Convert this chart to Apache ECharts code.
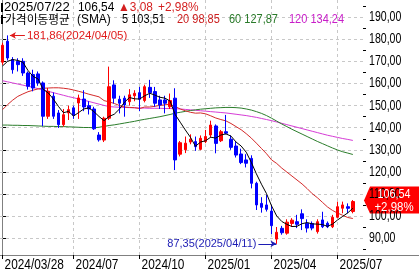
<!DOCTYPE html>
<html><head><meta charset="utf-8">
<script src="https://cdn.jsdelivr.net/npm/echarts@6/dist/echarts.min.js"></script>
<style>html,body{margin:0;padding:0;background:#fff;}#c{width:419px;height:275px;}</style>
</head><body><div id="c"></div>
<script>
const dates = ['2024/03/28','2024/04/05','2024/04/12','2024/04/19','2024/04/26','2024/05/03','2024/05/10','2024/05/17','2024/05/24','2024/05/31','2024/06/07','2024/06/14','2024/06/21','2024/06/28','2024/07/05','2024/07/12','2024/07/19','2024/07/26','2024/08/02','2024/08/09','2024/08/16','2024/08/23','2024/08/30','2024/09/06','2024/09/13','2024/09/20','2024/09/27','2024/10/04','2024/10/11','2024/10/18','2024/10/25','2024/11/01','2024/11/08','2024/11/15','2024/11/22','2024/11/29','2024/12/06','2024/12/13','2024/12/20','2024/12/27','2025/01/03','2025/01/10','2025/01/17','2025/01/24','2025/01/31','2025/02/07','2025/02/14','2025/02/21','2025/02/28','2025/03/07','2025/03/14','2025/03/21','2025/03/28','2025/04/04','2025/04/11','2025/04/17','2025/04/25','2025/05/02','2025/05/09','2025/05/16','2025/05/23','2025/05/30','2025/06/06','2025/06/13','2025/06/20','2025/06/27','2025/07/03','2025/07/11','2025/07/18','2025/07/22'];
const openP = [169.7,179.2,170.9,170.1,170.1,164.8,164.1,164.4,160.3,145.2,
 154.3,146.7,141.4,146.7,149.0,151.2,153.0,150.0,148.5,136.7,
 134.4,144.3,159.4,152.9,153.4,151.8,154.5,155.9,152.3,158.3,
 156.4,152.6,152.6,149.5,153.4,128.0,130.0,133.5,133.7,130.2,
 133.7,136.7,140.8,134.1,138.2,134.8,131.7,128.1,125.4,126.1,
 114.8,105.7,105.0,102.2,89.5,94.4,92.2,96.6,97.4,101.0,
 96.7,96.6,92.9,98.2,96.7,95.1,99.4,103.5,104.2,102.0];
const closeP = [177.4,171.6,166.3,168.6,164.8,158.8,158.0,160.3,145.2,156.5,
 145.2,141.4,145.9,148.2,145.6,153.5,149.4,148.5,139.5,134.5,
 144.3,158.6,153.4,151.1,150.3,154.9,155.6,152.9,158.6,155.9,
 151.1,150.3,151.1,152.3,125.4,133.2,133.0,134.8,131.4,135.2,
 136.0,141.2,132.9,138.2,137.5,131.1,127.6,124.2,123.9,114.8,
 105.0,103.9,103.0,95.6,92.6,92.4,97.2,98.1,96.2,98.8,
 94.5,94.5,97.4,95.1,95.1,99.4,104.2,105.0,103.46,106.54];
const lowP = [168.5,170.5,164.5,165.5,163.5,157.3,156.5,159.0,140.7,144.0,
 144.0,139.9,140.5,143.5,144.0,144.0,147.5,146.0,139.0,133.7,
 133.5,143.5,151.0,146.5,145.0,150.0,152.0,147.5,151.5,153.5,
 149.5,148.5,146.5,148.5,120.8,127.0,128.5,132.5,129.5,129.8,
 133.0,135.5,128.4,133.5,137.0,130.0,126.5,123.5,122.0,112.5,
 102.7,101.5,102.0,91.8,87.35,91.5,91.5,95.0,94.5,93.6,
 92.5,93.5,92.0,94.5,94.5,94.5,99.0,101.2,101.2,101.2];
const highP = [178.5,181.86,172.0,171.5,171.5,165.5,166.3,165.5,161.0,158.0,
 156.0,148.0,148.5,150.0,150.0,155.0,157.0,152.0,149.5,138.0,
 145.0,167.7,161.5,154.5,154.5,157.5,157.0,158.5,159.5,161.7,
 158.5,154.5,154.5,155.5,157.9,134.0,136.0,137.0,136.0,136.5,
 139.0,143.2,141.5,139.0,145.8,136.5,133.5,130.5,128.0,127.5,
 115.5,108.5,109.5,105.0,95.0,95.5,98.5,99.0,100.5,103.0,
 98.5,97.5,98.5,101.9,97.5,100.5,106.5,106.5,105.7,107.2];
const sma5 = [168.0,170.1,170.9,170.5,169.7,166.0,163.3,162.1,157.4,155.8,
 153.0,149.7,146.8,147.4,145.3,146.9,148.5,149.0,147.3,145.1,
 143.2,145.1,146.1,148.4,151.5,153.7,153.1,153.0,154.5,155.6,
 154.8,153.8,153.4,152.1,146.0,142.5,139.0,135.7,131.6,133.5,
 134.1,135.7,135.3,136.7,137.2,136.2,133.5,131.7,128.9,124.3,
 119.1,114.4,110.1,104.5,100.0,97.5,96.2,95.2,95.3,96.5,
 97.0,96.4,96.3,96.1,95.3,96.3,98.2,99.8,101.4,103.51];
const sma20 = [148.2,150.5,152.5,154.2,155.3,156.3,157.0,157.6,157.9,158.0,
 158.1,158.1,157.9,157.6,157.1,156.5,155.9,155.2,154.6,154.0,
 152.3,151.7,151.0,150.1,149.4,149.2,149.1,148.7,149.4,149.4,
 149.7,150.1,150.4,150.6,149.6,148.5,147.7,147.0,146.6,146.7,
 146.3,145.4,144.4,143.7,143.1,141.9,140.5,139.1,137.3,135.3,
 133.0,130.6,128.2,125.4,123.8,121.7,119.9,118.1,116.3,114.5,
 112.4,110.1,108.3,106.2,104.1,102.5,101.3,100.3,99.3,98.85];
const sma60 = [141.2,141.2,141.1,141.1,141.0,141.0,140.9,140.8,140.7,140.6,
 140.6,140.5,140.5,140.4,140.3,140.2,140.1,140.1,140.0,140.2,
 140.6,141.0,141.3,141.7,142.1,142.5,142.9,143.4,143.8,144.2,
 144.6,145.0,145.5,146.0,146.6,147.0,147.4,147.8,148.1,148.4,
 148.6,148.8,149.0,149.1,149.2,149.2,149.1,148.9,148.5,148.0,
 147.3,146.5,145.5,144.3,143.0,141.7,140.5,139.3,138.2,137.1,
 136.0,134.9,133.8,132.8,131.8,130.8,129.9,129.1,128.5,127.87];
const sma120 = [161.3,160.8,160.3,159.8,159.3,158.8,158.3,157.7,157.1,156.5,
 155.9,155.3,154.7,154.1,153.6,153.0,152.5,151.9,151.3,150.7,
 150.1,149.6,149.4,149.3,149.2,149.1,149.0,148.9,148.9,148.8,
 148.8,148.8,148.7,148.7,148.6,148.5,148.3,148.1,147.9,147.7,
 147.5,147.3,147.1,146.9,146.7,146.4,146.1,145.8,145.5,145.1,
 144.7,144.2,143.7,143.2,142.6,142.0,141.4,140.8,140.2,139.6,
 139.0,138.4,137.8,137.2,136.6,136.1,135.6,135.1,134.7,134.24];
const xTickIdx = [0,14,27,40,53,66];
const xTickLabels = ['2024/03/28','2024/07','2024/10','2025/01','2025/04','2025/07'];
const yTicks = [90,100,110,120,130,140,150,160,170,180,190];
const yMinorTicks = [85,95,105,115,125,135,145,155,165,175,185,195];
const maPeriods = [5,20,60,120];

const maSeries = [sma5, sma20, sma60, sma120];
const maColors = ['#000000','#d42a2a','#2b7d2b','#d63cd6'];
const maTextColors = ['#000000','#cc2020','#2a7a2a','#c81ec8'];
const upColor = '#ff0000', downColor = '#0000ff';
const fLib = "'Liberation Sans',Arial,sans-serif";
const fKor = "'Noto Sans CJK KR',sans-serif";
const fmt = v => v.toFixed(2).replace('.', ',');

const n = dates.length;
const candles = dates.map((d, i) => [i, openP[i], closeP[i], lowP[i], highP[i]]);
let hiIdx = 0, loIdx = 0;
for (let i = 0; i < n; i++) { if (highP[i] > highP[hiIdx]) hiIdx = i; if (lowP[i] < lowP[loIdx]) loIdx = i; }

const chart = echarts.init(document.getElementById('c'), null, {renderer: 'canvas'});
const yMin = 82.3, yMax = 197.9;
const option = {
  animation: false,
  backgroundColor: '#ffffff',
  grid: {left: 0, right: 56, top: 0, bottom: 20},
  xAxis: {
    type: 'value', min: -0.5, max: n + 1,
    axisLine: {show: true, lineStyle: {color: '#808080', width: 1}},
    axisTick: {show: true, customValues: xTickIdx, length: 4, lineStyle: {color: '#000'}},
    axisLabel: {show: false},
    splitLine: {show: false}
  },
  yAxis: [{
    type: 'value', position: 'right', min: yMin, max: yMax,
    axisLine: {show: true, lineStyle: {color: '#808080', width: 1}},
    axisTick: {show: true, customValues: yTicks, length: 4, lineStyle: {color: '#000'}},
    axisLabel: {show: false},
    splitLine: {show: false}
  }, {
    type: 'value', position: 'right', min: yMin, max: yMax,
    axisLine: {show: false},
    axisTick: {show: true, customValues: yMinorTicks, length: 3, lineStyle: {color: '#000'}},
    axisLabel: {show: false},
    splitLine: {show: false}
  }],
  series: [
    {
      type: 'line', data: [], silent: true, z: 1,
      markLine: {
        silent: true, symbol: 'none', animation: false,
        label: {show: false},
        lineStyle: {color: '#c8c8c8', type: [3, 3], width: 1},
        data: yTicks.map(v => ({yAxis: v})).concat(xTickIdx.slice(1).map(v => ({xAxis: v})))
      }
    },
    {
      type: 'candlestick', data: candles, encode: {x: 0, y: [1, 2, 3, 4]},
      barWidth: 3, z: 10,
      itemStyle: {color: upColor, color0: downColor, borderColor: upColor, borderColor0: downColor, borderWidth: 1},
      markLine: {
        silent: true, animation: false,
        data: [
          [{coord: [hiIdx + 0.45, highP[hiIdx]], symbol: 'arrow', symbolSize: [5, 6],
            lineStyle: {color: '#e01b1b', width: 1, type: 'solid'},
            label: {show: true, position: 'end', distance: 2, formatter: fmt(highP[hiIdx]) + '(' + dates[hiIdx] + ')',
              color: '#e01b1b', fontFamily: fLib, fontSize: 11.5}},
           {coord: [hiIdx + 3.4, highP[hiIdx]], symbol: 'none'}],
          [{coord: [loIdx - 3.6, lowP[loIdx]], symbol: 'none',
            lineStyle: {color: '#1c1cb4', width: 1, type: 'solid'},
            label: {show: true, position: 'start', distance: 2, formatter: fmt(lowP[loIdx]) + '(' + dates[loIdx] + ')',
              color: '#1c1cb4', fontFamily: fLib, fontSize: 11}},
           {coord: [loIdx - 0.05, lowP[loIdx]], symbol: 'arrow', symbolSize: [5, 6]}]
        ]
      }
    }
  ].concat(maSeries.map((arr, k) => ({
    type: 'line', data: arr.map((v, i) => [i, v]), showSymbol: false, symbol: 'none', z: 11 - k,
    lineStyle: {color: maColors[k], width: 1}, silent: true
  })))
};
chart.setOption(option);

const last = n - 1;
const chg = closeP[last] - closeP[last - 1];
const pct = chg / closeP[last - 1] * 100;
const py = chart.convertToPixel({yAxisIndex: 0}, closeP[last]);
const cy = py - 1;
const txt = (x, y, s, color, font, sx, align) => ({type: 'text', x: x, y: y, scaleX: sx || 1, silent: true, z: 100,
  style: {text: s, fill: color, font: font, verticalAlign: 'middle', align: align || 'left'}});
const legFont = '12.5px ' + fLib;
const graphics = [
  {type: 'rect', shape: {x: 1, y: 3, width: 2, height: 9}, style: {fill: '#000'}, z: 100},
  {type: 'rect', shape: {x: 1, y: 15, width: 2, height: 9}, style: {fill: '#000'}, z: 100},
  txt(4, 7.5, dates[last], '#000', legFont, 1.05),
  txt(78, 7.5, fmt(closeP[last]), '#000', legFont, 0.95),
  txt(118, 7.5, (chg >= 0 ? '\u25B2' : '\u25BC') + fmt(Math.abs(chg)), '#d41f1f', legFont, 0.95),
  txt(158, 7.5, (chg >= 0 ? '+' : '-') + fmt(Math.abs(pct)) + '%', '#d41f1f', legFont, 0.95),
  txt(5, 19.5, '가격이동평균', '#000', '12px ' + fKor, 0.98),
  txt(77, 19.5, '(SMA)', '#000', legFont, 0.95),
  txt(122, 19.5, maPeriods[0] + ' ' + fmt(sma5[last]), maTextColors[0], legFont, 0.88),
  txt(177, 19.5, maPeriods[1] + ' ' + fmt(sma20[last]), maTextColors[1], legFont, 0.88),
  txt(229, 19.5, maPeriods[2] + ' ' + fmt(sma60[last]), maTextColors[2], legFont, 0.88),
  txt(289, 19.5, maPeriods[3] + ' ' + fmt(sma120[last]), maTextColors[3], legFont, 0.88),
  {type: 'line', shape: {x1: 363, y1: 255.5, x2: 419, y2: 255.5}, style: {stroke: '#808080', lineWidth: 1}, z: 100},
  {type: 'polygon', z: 100, shape: {points: [[364, cy], [370, cy - 14], [419, cy - 14], [419, cy + 13], [370, cy + 13]]},
    style: {fill: '#ff0000'}},
  txt(394, cy - 6.5, fmt(closeP[last]), '#fff', '13px ' + fLib, 0.83, 'center'),
  txt(394, cy + 6.5, (chg >= 0 ? '+' : '-') + fmt(Math.abs(pct)) + '%', '#fff', '13px ' + fLib, 0.88, 'center')
];
graphics[graphics.length - 1].z = 101; graphics[graphics.length - 2].z = 101;
yTicks.forEach(v => {
  const y = chart.convertToPixel({yAxisIndex: 0}, v);
  graphics.push(txt(369, y, fmt(v), '#000', '14px ' + fLib, 0.755));
});
xTickIdx.forEach((idx, k) => {
  const x = chart.convertToPixel({xAxisIndex: 0}, idx);
  graphics.push(txt(x + 2, 265, xTickLabels[k], '#000', '15px ' + fLib, 0.79));
});
chart.setOption({graphic: graphics});
</script>
</body></html>
